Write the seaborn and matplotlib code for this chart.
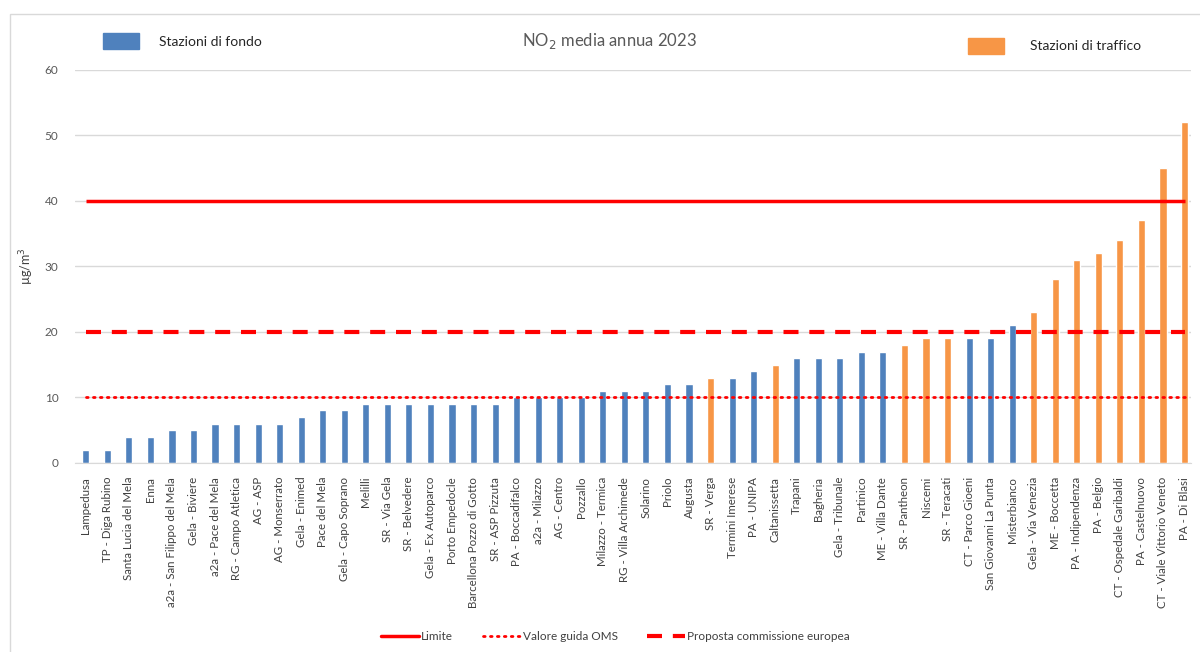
import matplotlib
matplotlib.use('Agg')
import matplotlib.pyplot as plt
import seaborn as sns
import pandas as pd
from matplotlib.patches import Patch, Rectangle
from matplotlib.lines import Line2D

# dati: NO2 media annua 2023 per stazione
stazioni = [
    'Lampedusa', 'TP - Diga Rubino', 'Santa Lucia del Mela', 'Enna',
    'a2a - San Filippo del Mela', 'Gela - Biviere', 'a2a - Pace del Mela',
    'RG - Campo Atletica', 'AG - ASP', 'AG - Monserrato', 'Gela - Enimed',
    'Pace del Mela', 'Gela - Capo Soprano', 'Melilli', 'SR - Via Gela',
    'SR - Belvedere', 'Gela - Ex Autoparco', 'Porto Empedocle',
    'Barcellona Pozzo di Gotto', 'SR - ASP Pizzuta', 'PA - Boccadifalco',
    'a2a - Milazzo', 'AG - Centro', 'Pozzallo', 'Milazzo - Termica',
    'RG - Villa Archimede', 'Solarino', 'Priolo', 'Augusta', 'SR - Verga',
    'Termini Imerese', 'PA - UNIPA', 'Caltanissetta', 'Trapani', 'Bagheria',
    'Gela - Tribunale', 'Partinico', 'ME - Villa Dante', 'SR - Pantheon',
    'Niscemi', 'SR - Teracati', 'CT - Parco Gioeni', 'San Giovanni La Punta',
    'Misterbianco', 'Gela - Via Venezia', 'ME - Boccetta', 'PA - Indipendenza',
    'PA - Belgio', 'CT - Ospedale Garibaldi', 'PA - Castelnuovo',
    'CT - Viale Vittorio Veneto', 'PA - Di Blasi',
]
valori = [2, 2, 4, 4, 5, 5, 6, 6, 6, 6, 7, 8, 8, 9, 9, 9, 9, 9, 9, 9, 10,
          10, 10, 10, 11, 11, 11, 12, 12, 13, 13, 14, 15, 16, 16, 16, 17, 17,
          18, 19, 19, 19, 19, 21, 23, 28, 31, 32, 34, 37, 45, 52]
tipo = ['fondo'] * 29 + ['traffico', 'fondo', 'fondo', 'traffico'] + ['fondo'] * 5 \
    + ['traffico'] * 3 + ['fondo'] * 3 + ['traffico'] * 8

limite = 40
valore_oms = 10
proposta_ue = 20

BLU = '#4F81BD'
ARANCIO = '#F79646'
ROSSO = '#FF0000'
GRIGIO = '#595959'

df = pd.DataFrame({'stazione': stazioni, 'valore': valori, 'tipo': tipo})

sns.set_style('white')
plt.rcParams['font.family'] = ['Lato', 'DejaVu Sans']

fig = plt.figure(figsize=(12, 6.52), dpi=100)
ax = fig.add_axes([0.0625, 0.29, 0.93, 0.603])

sns.barplot(data=df, x='stazione', y='valore', hue='tipo', dodge=False,
            palette={'fondo': BLU, 'traffico': ARANCIO}, width=0.33,
            saturation=1, legend=False, ax=ax)

# linee di riferimento
n = len(stazioni)
ax.plot([0, n - 1], [limite, limite], color=ROSSO, lw=2.5, solid_capstyle='butt')
ax.plot([0, n - 1], [proposta_ue, proposta_ue], color=ROSSO, lw=3,
        linestyle=(0, (3.6, 2.6)))
ax.plot([0, n - 1], [valore_oms, valore_oms], color=ROSSO, lw=2,
        linestyle=(0, (0.6, 1.9)), dash_capstyle='round')

ax.set_xlim(-0.5, n - 0.7)
ax.set_ylim(0, 60)
ax.set_yticks(range(0, 61, 10))
ax.yaxis.grid(True, color='#D9D9D9', lw=1)
ax.set_axisbelow(True)
for s in ['top', 'right', 'left']:
    ax.spines[s].set_visible(False)
ax.spines['bottom'].set_color('#D9D9D9')
ax.tick_params(axis='y', colors=GRIGIO, labelsize=8.5, length=0, pad=12)
ax.tick_params(axis='x', colors='#404040', labelsize=8.3, length=0, pad=10)
plt.setp(ax.get_xticklabels(), rotation=90)
ax.set_xlabel('')
ax.set_ylabel('µg/m$^3$', color='#404040', fontsize=9, labelpad=6)

fig.text(0.508, 0.937, 'NO$_2$ media annua 2023', ha='center', va='center',
         fontsize=12, color=GRIGIO)

# legende in alto
fig.legend(handles=[Patch(color=BLU, label='Stazioni di fondo')],
           loc='center left', bbox_to_anchor=(0.075, 0.937), frameon=False,
           handlelength=2.6, handleheight=1.4, handletextpad=1.5,
           fontsize=10, labelcolor='#262626')
fig.legend(handles=[Patch(color=ARANCIO, label='Stazioni di traffico')],
           loc='center left', bbox_to_anchor=(0.796, 0.93), frameon=False,
           handlelength=2.6, handleheight=1.4, handletextpad=1.9,
           fontsize=10, labelcolor='#262626')

# legenda in basso
h = [Line2D([], [], color=ROSSO, lw=2.5, label='Limite'),
     Line2D([], [], color=ROSSO, lw=2, linestyle=(0, (0.6, 1.9)),
            dash_capstyle='round', label='Valore guida OMS'),
     Line2D([], [], color=ROSSO, lw=3, linestyle=(0, (3.6, 2.6)),
            label='Proposta commissione europea')]
fig.legend(handles=h, loc='center', bbox_to_anchor=(0.513, 0.024), ncol=3,
           frameon=False, fontsize=8.5, handlelength=3.2, columnspacing=2.5,
           handletextpad=0.2, labelcolor='#404040')

# cornice del grafico
fig.add_artist(Rectangle((0.008, -0.01), 1.0, 0.988, transform=fig.transFigure,
                         fill=False, edgecolor='#D9D9D9', lw=1))

fig.savefig('out.png', dpi=100)
